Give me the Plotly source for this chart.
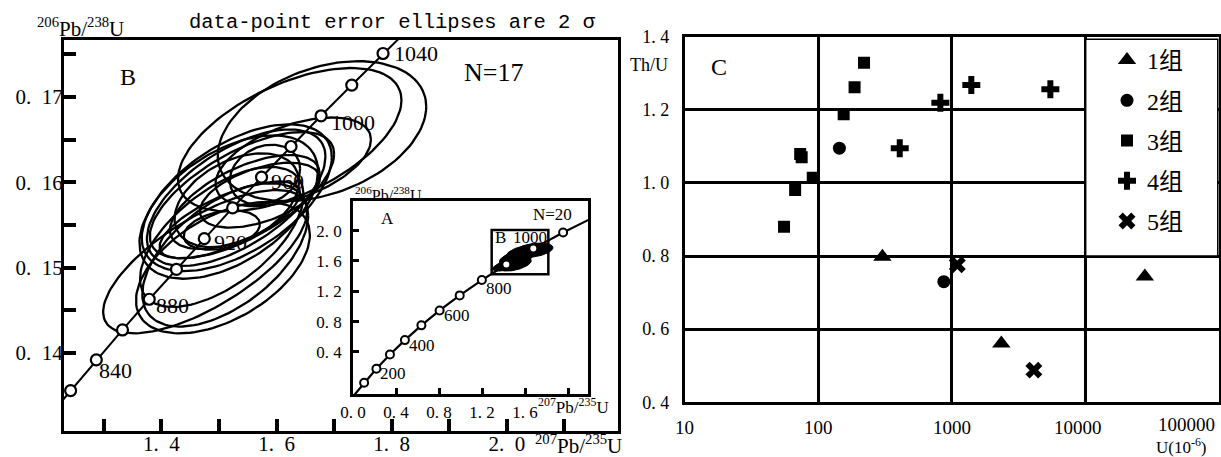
import numpy as np
import plotly.graph_objects as go

W, H = 1221, 457
SERIF = "Liberation Serif, Noto Sans CJK SC"
MONO = "Liberation Mono"
SP = "\u2002"

# ---- panel B: concordia (ages in Ma) and ratios
conc_age = [800, 820, 840, 860, 880, 900, 920, 940, 960, 980, 1000, 1020, 1040, 1060]
conc_x = [1.1987, 1.2425, 1.2871, 1.3326, 1.3790, 1.4263, 1.4746, 1.5238,
          1.5740, 1.6252, 1.6774, 1.7307, 1.7850, 1.8404]
conc_y = [0.1321, 0.1356, 0.1392, 0.1427, 0.1463, 0.1498, 0.1534, 0.1570,
          0.1606, 0.1642, 0.1678, 0.1714, 0.1751, 0.1787]
conc_labels = [840, 880, 920, 960, 1000, 1040]

# error ellipses (centre, 2 sigma half widths, correlation)
ell_x = [1.679, 1.623, 1.531, 1.530, 1.517, 1.540, 1.580, 1.545, 1.476,
         1.507, 1.511, 1.505, 1.505, 1.519, 1.531, 1.571, 1.629]
ell_y = [0.1660, 0.1650, 0.1582, 0.1582, 0.1571, 0.1585, 0.1609, 0.1577, 0.1507,
         0.1500, 0.1515, 0.1536, 0.1544, 0.1556, 0.1579, 0.1585, 0.1624]
ell_sx = [0.181, 0.194, 0.165, 0.155, 0.155, 0.160, 0.061, 0.130, 0.177,
          0.151, 0.144, 0.142, 0.066, 0.122, 0.108, 0.104, 0.135]
ell_sy = [0.0082, 0.0084, 0.0086, 0.0080, 0.0084, 0.0074, 0.0035, 0.0055, 0.0084,
          0.0077, 0.0084, 0.0082, 0.0023, 0.0045, 0.0055, 0.0038, 0.0052]
ell_rho = [0.35, 0.55, 0.55, 0.60, 0.50, 0.65, 0.20, 0.60, 0.70,
           0.50, 0.55, 0.60, 0.30, 0.70, 0.40, 0.50, 0.50]

# ---- inset A
inset_age = [0, 100, 200, 300, 400, 500, 600, 700, 800, 900, 1000, 1100, 1200]
inset_x = [0.0, 0.1035, 0.2177, 0.3437, 0.4828, 0.6363, 0.8056, 0.9925,
           1.1987, 1.4263, 1.6774, 1.9545, 2.2603]
inset_y = [0.0, 0.0156, 0.0315, 0.0476, 0.0640, 0.0807, 0.0976, 0.1147,
           0.1321, 0.1498, 0.1678, 0.1861, 0.2046]
inset_labels = [200, 400, 600, 800]
inset_ytick_pos = [0.0505, 0.0849, 0.1196, 0.1540, 0.1880]
inset_ytick_txt = ["0. 4", "0. 8", "1. 2", "1. 6", "2. 0"]
box_b_x = [1.290, 1.817]
box_b_y = [0.1386, 0.1889]

# ---- panel C: U (10^-6) vs Th/U
groups = ["1组", "2组", "3组", "4组", "5组"]
g_symbol = ["triangle-up", "circle", "square", "cross", "x"]
g_u = [
    [302, 2340, 27700],
    [144, 869],
    [55.5, 67.2, 91, 73.3, 75.2, 155, 187, 220],
    [407, 819, 1396, 5445],
    [1097, 4100],
]
g_thu = [
    [0.798, 0.561, 0.744],
    [1.095, 0.730],
    [0.880, 0.981, 1.014, 1.079, 1.070, 1.188, 1.262, 1.329],
    [1.095, 1.219, 1.268, 1.256],
    [0.776, 0.488],
]
c_xticks = [10, 100, 1000, 10000, 100000]
c_yticks = [0.4, 0.6, 0.8, 1.0, 1.2, 1.4]


def ellipse(cx, cy, sx, sy, rho, n=120):
    t = np.linspace(0, 2 * np.pi, n)
    x = cx + sx * np.cos(t)
    y = cy + sy * (rho * np.cos(t) + np.sqrt(1 - rho ** 2) * np.sin(t))
    return x, y


def note(text, x, y, size, family=SERIF, xanchor="center"):
    # x, y in page pixels
    return dict(text=text, x=x / W, y=1 - y / H, xref="paper", yref="paper",
                showarrow=False, xanchor=xanchor, yanchor="middle",
                font=dict(size=size, family=family, color="black"))


fig = go.Figure()

# B ellipses
for i in range(len(ell_x)):
    ex, ey = ellipse(ell_x[i], ell_y[i], ell_sx[i], ell_sy[i], ell_rho[i])
    fig.add_trace(go.Scatter(x=ex, y=ey, mode="lines", xaxis="x", yaxis="y",
                             line=dict(color="black", width=2.3), showlegend=False,
                             hoverinfo="skip"))

# B concordia
fig.add_trace(go.Scatter(x=conc_x, y=conc_y, mode="lines", xaxis="x", yaxis="y",
                         line=dict(color="black", width=2), showlegend=False))
fig.add_trace(go.Scatter(x=conc_x[1:-1], y=conc_y[1:-1], mode="markers", xaxis="x", yaxis="y",
                         marker=dict(symbol="circle", size=11, color="white",
                                     line=dict(color="black", width=2.2)),
                         showlegend=False))

# inset ellipses (filled) and concordia
for i in range(len(ell_x)):
    ex, ey = ellipse(ell_x[i], ell_y[i], ell_sx[i], ell_sy[i], ell_rho[i])
    fig.add_trace(go.Scatter(x=ex, y=ey, mode="lines", xaxis="x2", yaxis="y2",
                             fill="toself", fillcolor="black",
                             line=dict(color="black", width=1), showlegend=False,
                             hoverinfo="skip"))
fig.add_trace(go.Scatter(x=inset_x, y=inset_y, mode="lines", xaxis="x2", yaxis="y2",
                         line=dict(color="black", width=2.2), showlegend=False))
fig.add_trace(go.Scatter(x=inset_x[1:-1], y=inset_y[1:-1], mode="markers", xaxis="x2", yaxis="y2",
                         marker=dict(symbol="circle", size=8, color="white",
                                     line=dict(color="black", width=2)),
                         showlegend=False))

# C scatter groups
g_size = [16, 13, 12, 15, 15]
for i, name in enumerate(groups):
    fig.add_trace(go.Scatter(x=g_u[i], y=g_thu[i], mode="markers", name=name,
                             xaxis="x3", yaxis="y3", legendgroup=name,
                             marker=dict(symbol=g_symbol[i], size=g_size[i], color="black",
                                         line=dict(width=0))))

tickfont = dict(family=SERIF, size=21, color="black")
fig.update_layout(
    width=W, height=H,
    margin=dict(l=0, r=0, t=0, b=0),
    paper_bgcolor="white", plot_bgcolor="white",
    xaxis=dict(domain=[64 / W, 618 / W], range=[1.231, 2.193], anchor="y",
               showline=True, linecolor="black", linewidth=3, mirror=True,
               ticks="inside", ticklen=12, tickwidth=4, tickcolor="black",
               tickvals=[1.3, 1.4, 1.5, 1.6, 1.7, 1.8, 1.9, 2.0, 2.1],
               ticktext=["", "1." + SP + "4", "", "1." + SP + "6", "", "1." + SP + "8", "",
                         "2." + SP + "0", ""],
               tickfont=tickfont, ticklabelstandoff=-8, automargin=False,
               showgrid=False, zeroline=False),
    yaxis=dict(domain=[1 - 431 / H, 1 - 40 / H], range=[0.13086, 0.17668], anchor="x",
               showline=True, linecolor="black", linewidth=3, mirror=True,
               ticks="inside", ticklen=12, tickwidth=4, tickcolor="black",
               tickvals=[0.14, 0.145, 0.15, 0.155, 0.16, 0.165, 0.17, 0.175],
               ticktext=["0." + SP + "14", "", "0." + SP + "15", "", "0." + SP + "16", "",
                         "0." + SP + "17", ""],
               tickfont=tickfont, ticklabelstandoff=-6, automargin=False,
               showgrid=False, zeroline=False),
    xaxis2=dict(domain=[353 / W, 588 / W], range=[0, 2.186], anchor="y2",
                showline=True, linecolor="black", linewidth=2.5, mirror=True,
                ticks="inside", ticklen=6, tickwidth=3, tickcolor="black",
                tickvals=[0, 0.4, 0.8, 1.2, 1.6, 2.0],
                ticktext=["0. 0", "0. 4", "0. 8", "1. 2", "1. 6", ""],
                tickfont=dict(family=SERIF, size=17, color="black"), ticklabelstandoff=1,
                automargin=False, showgrid=False, zeroline=False),
    yaxis2=dict(domain=[1 - 394 / H, 1 - 201 / H], range=[0.00284, 0.2218], anchor="x2",
                showline=True, linecolor="black", linewidth=2.5, mirror=True,
                ticks="inside", ticklen=6, tickwidth=3, tickcolor="black",
                tickvals=inset_ytick_pos, ticktext=inset_ytick_txt,
                tickfont=dict(family=SERIF, size=17, color="black"), ticklabelstandoff=5,
                automargin=False, showgrid=False, zeroline=False),
    xaxis3=dict(domain=[684.5 / W, 1219.4 / W], type="log", range=[1, 5], anchor="y3",
                showline=True, linecolor="black", linewidth=2.5, mirror=True,
                tickvals=c_xticks, showticklabels=False, ticks="", automargin=False,
                showgrid=True, gridcolor="black", gridwidth=2.5, zeroline=False),
    yaxis3=dict(domain=[1 - 402.3 / H, 1 - 36.7 / H], range=[0.4, 1.4], anchor="x3",
                showline=True, linecolor="black", linewidth=2.5, mirror=True,
                tickvals=c_yticks, ticktext=["0. 4", "0. 6", "0. 8", "1. 0", "1. 2", "1. 4"],
                tickfont=dict(family=SERIF, size=18, color="black"), ticks="",
                ticklabelstandoff=9, automargin=False,
                showgrid=True, gridcolor="black", gridwidth=2.5, zeroline=False),
    showlegend=True,
    legend=dict(x=1107 / W, y=1 - 38 / H, xanchor="left", yanchor="top",
                bgcolor="rgba(0,0,0,0)", traceorder="grouped", tracegroupgap=6,
                font=dict(family=SERIF, size=24, color="black")),
)

# legend box in panel C and the B box inside the inset
fig.add_shape(type="rect", xref="x3 domain", yref="y3 domain", x0=0.75, x1=0.997, y0=0.4, y1=0.993,
              fillcolor="white", line=dict(color="black", width=1.5), layer="above")
fig.add_shape(type="rect", xref="x2", yref="y2", x0=box_b_x[0], x1=box_b_x[1],
              y0=box_b_y[0], y1=box_b_y[1], line=dict(color="black", width=2.5))

ann = []
ann.append(note("<sup>206</sup>Pb/<sup>238</sup>U", 80, 27, 21))
ann.append(note("data-point error ellipses are 2 σ", 392, 22, 20.5, family=MONO))
ann.append(note("B", 128, 77, 24))
ann.append(note("N=17", 493, 72, 26))
ann.append(note("<sup>207</sup>Pb/<sup>235</sup>U", 578, 444, 21))

# concordia age labels, B panel
shifts = {840: (1, -11), 880: (5, -6), 920: (8, -4), 960: (7, -4), 1000: (8, -7), 1040: (9, 0)}
for a in conc_labels:
    k = conc_age.index(a)
    dx, dy = shifts[a]
    ann.append(dict(text=str(a), x=conc_x[k], y=conc_y[k], xref="x", yref="y",
                    showarrow=False, xanchor="left", yanchor="middle",
                    xshift=dx, yshift=dy, font=dict(family=SERIF, size=22, color="black")))

# inset texts
ann.append(note("<sup>206</sup>Pb/<sup>238</sup>U", 388, 194, 16))
ann.append(note("A", 387, 218, 17))
ann.append(note("N=20", 552, 214, 17))
ann.append(note("<sup>207</sup>Pb/<sup>235</sup>U", 573, 406, 17))
for a in inset_labels:
    k = inset_age.index(a)
    ann.append(dict(text=str(a), x=inset_x[k], y=inset_y[k], xref="x2", yref="y2",
                    showarrow=False, xanchor="left", yanchor="middle",
                    xshift=2, yshift=-5 if a < 800 else -8,
                    font=dict(family=SERIF, size=17, color="black")))
ann.append(note("B", 500, 237, 17))
ann.append(note("1000", 530, 237, 17))

# panel C texts
ann.append(note("Th/U", 649, 65, 18))
ann.append(note("C", 719, 67, 24))
ann.append(note("U(10<sup>-6</sup>)", 1181, 446, 17))
for v in c_xticks:
    last = v == c_xticks[-1]
    ann.append(dict(text=str(v), x=np.log10(v), y=0, xref="x3", yref="y3 domain",
                    showarrow=False, xanchor="right" if last else "center", yanchor="top",
                    xshift=-2 if last else (-8 if v == 10000 else 0),
                    yshift=-10 if last else -13,
                    font=dict(family=SERIF, size=19, color="black")))

fig.update_layout(annotations=ann)

# the page body has a default margin; drop it so the figure sits at the page corner
fig.write_html("out.html", config={"displayModeBar": False},
               post_script="document.body.style.margin='0';")
